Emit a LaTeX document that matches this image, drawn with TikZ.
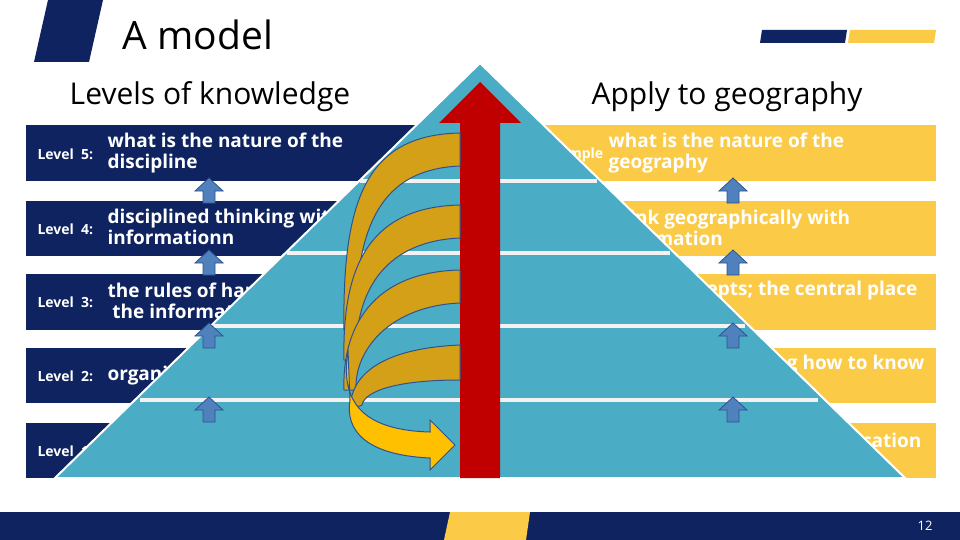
\documentclass[tikz,border=0pt]{standalone}
\usepackage{fontspec}
\setmainfont{Open Sans}
\definecolor{navy}{HTML}{0E2360}
\definecolor{gold}{HTML}{FBCB48}
\definecolor{pyr}{HTML}{4BACC6}
\definecolor{bluear}{HTML}{4F81BD}
\definecolor{bluedk}{HTML}{2F528F}
\definecolor{redar}{HTML}{C00000}
\definecolor{spiral}{HTML}{D4A017}
\definecolor{spiral2}{HTML}{FFC000}
\tikzset{
 lvl/.style={anchor=west,text=white,font=\fontsize{14}{14}\selectfont\bfseries},
 btxt/.style={anchor=west,text=white,align=left,font=\fontsize{19}{21}\selectfont\bfseries},
 rtxt/.style={anchor=east,text=white,align=left,font=\fontsize{19}{21}\selectfont\bfseries},
 upar/.style={fill=bluear,draw=bluedk,line width=0.8pt},
 sp/.style={fill=spiral,draw=bluedk,line width=1pt},
}
\newcommand{\myuparr}[2]{\draw[upar] (#1-6,#2+25) -- (#1-6,#2+13) -- (#1-14,#2+13) -- (#1,#2) -- (#1+14,#2+13) -- (#1+6,#2+13) -- (#1+6,#2+25) -- cycle;}
\begin{document}
\begin{tikzpicture}[x=1pt,y=-1pt]
\useasboundingbox (0,0) rectangle (960,540);
\fill[white] (0,0) rectangle (960,540);
% header decorations
\fill[navy] (48,0) -- (103,0) -- (89,62) -- (34,62) -- cycle;
\fill[navy] (762,30) -- (847,30) -- (845,43) -- (760,43) -- cycle;
\fill[gold] (850,30) -- (936,30) -- (934,43) -- (848,43) -- cycle;
\node[font=\fontsize{39}{39}\selectfont] (title) at (198,35) {A model};
\node[font=\fontsize{30}{30}\selectfont] (lk) at (210,97) {Levels of knowledge};
\node[font=\fontsize{30}{30}\selectfont] (ag) at (727,97) {Apply to geography};
% footer
\fill[navy] (0,512) rectangle (960,540);
\fill[gold] (450,512) -- (530,512) -- (526,540) -- (444,540) -- cycle;
\node[text=white,font=\fontsize{13}{13}\selectfont] (pg) at (925,526) {12};
% bands
\foreach \t/\b in {125/181,201/256,274/330,348/403,423/478}{
 \fill[navy] (26,\t) rectangle (420,\b);
 \fill[gold] (540,\t) rectangle (936,\b);
}
\node[lvl] (l5) at (34,154) {Level\ \ 5:};
\node[lvl] (l4) at (34,229) {Level\ \ 4:};
\node[lvl] (l3) at (34,302) {Level\ \ 3:};
\node[lvl] (l2) at (34,376) {Level\ \ 2:};
\node[lvl] (l1) at (34,451) {Level\ \ 1:};
\node[btxt] (t5) at (104,153) {what is the nature of the\\discipline};
\node[btxt] (t4) at (104,227) {disciplined thinking with\\informationn};
\node[btxt] (t3) at (104,301) {the rules of handling\\\ the information};
\node[btxt] (t2) at (104,376) {organising information};
\node[btxt] (t1) at (104,451) {information};
\node[lvl] (e5) at (540,155) {example};
\node[btxt] (r5) at (605,153) {what is the nature of the\\geography};
\node[btxt] (r4) at (605,228) {think geographically with\\information};
\node[rtxt] (r3) at (921,291) {concepts; the central place};
\node[rtxt] (r2) at (928,365) {knowing how to know};
\node[rtxt] (r1) at (925,440) {location};
% pyramid
\fill[pyr] (480,63) -- (905,478) -- (55,478) -- cycle;
\draw[white,line width=2pt] (480,63) -- (905,478) -- (55,478) -- cycle;
\foreach \y/\a/\b in {181/360/597,253/287/670,326/213/745,400/140/818}{
 \draw[white!90!gray,line width=4pt] (\a,\y) -- (\b,\y);
}
% up arrows
\foreach \y in {178,250,323,397}{ \myuparr{209}{\y} \myuparr{733}{\y} }
% red arrow
\fill[redar] (460,478) -- (460,123) -- (439,123) -- (480,82) -- (521,123) -- (500,123) -- (500,478) -- cycle;
% spiral arrows
\foreach \t/\e in {133/330,205/360,270/390}{
 \draw[sp] (460,\t) .. controls (370,\t+2) and (342,\t+60) .. (344,\e)
   -- (356,\e) .. controls (354,\t+80) and (390,\t+36) .. (460,\t+33) -- cycle;
}
\draw[sp] (460,345) .. controls (390,348) and (350,370) .. (350,410)
   -- (362,405) .. controls (365,390) and (400,380) .. (460,380) -- cycle;
\draw[sp,fill=spiral2] (348,350) .. controls (340,400) and (360,430) .. (430,432)
  -- (430,420) -- (455,445) -- (430,470) -- (430,458)
  .. controls (365,455) and (345,430) .. (350,400) -- cycle;
\end{tikzpicture}
\end{document}
